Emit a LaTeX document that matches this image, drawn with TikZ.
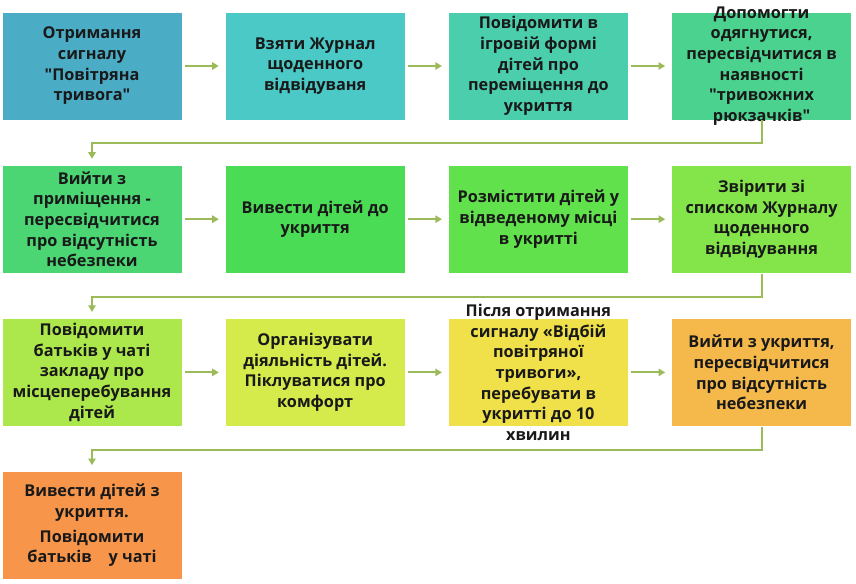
\documentclass[tikz,border=0pt]{standalone}
\usepackage{fontspec}
\setmainfont{Open Sans}
\usetikzlibrary{positioning,arrows.meta}
\definecolor{linkgreen}{RGB}{155,187,89}
\definecolor{c1}{RGB}{75,172,198}
\definecolor{c2}{RGB}{75,201,198}
\definecolor{c3}{RGB}{75,206,172}
\definecolor{c4}{RGB}{75,210,142}
\definecolor{c5}{RGB}{75,214,115}
\definecolor{c6}{RGB}{75,220,85}
\definecolor{c7}{RGB}{97,225,75}
\definecolor{c8}{RGB}{132,229,75}
\definecolor{c9}{RGB}{172,232,75}
\definecolor{c10}{RGB}{212,235,75}
\definecolor{c11}{RGB}{240,225,75}
\definecolor{c12}{RGB}{245,185,75}
\definecolor{c13}{RGB}{247,150,75}
\begin{document}
\begin{tikzpicture}[x=0.75pt,y=-0.75pt,
  stepbox/.style={rectangle, minimum width=135pt, minimum height=81pt, inner sep=0pt, draw=white, line width=0.6pt},
  steptext/.style={align=center, font=\bfseries\fontsize{12.2}{15.5}\selectfont, text=black!90},
  link/.style={-{Triangle[length=5pt,width=5.5pt]}, line width=1.5pt, draw=linkgreen, shorten >=4.5pt, shorten <=2pt},
  hop/.style={-{Triangle[length=5pt,width=5.5pt]}, line width=1.5pt, draw=linkgreen, shorten >=4.5pt},
  node distance=33.3pt and 31.8pt]
\useasboundingbox (0,0) rectangle (856,584);
% row 1
\node[stepbox, fill=c1, label={[steptext]center:{Отримання\\сигналу\\\textquotedbl Повітряна\\тривога\textquotedbl}}] (s1) at (92,66) {};
\node[stepbox, fill=c2, right=of s1, label={[steptext]center:{Взяти Журнал\\щоденного\\відвідуваня}}] (s2) {};
\node[stepbox, fill=c3, right=of s2, label={[steptext]center:{Повідомити в\\ігровій формі\\дітей про\\переміщення до\\укриття}}] (s3) {};
\node[stepbox, fill=c4, right=of s3, label={[steptext]center:{Допомогти\\одягнутися,\\пересвідчитися в\\наявності\\\textquotedbl тривожних\\рюкзачків\textquotedbl}}] (s4) {};
% row 2
\node[stepbox, fill=c5, below=of s1, label={[steptext]center:{Вийти з\\приміщення -\\пересвідчитися\\про відсутність\\небезпеки}}] (s5) {};
\node[stepbox, fill=c6, right=of s5, label={[steptext]center:{Вивести дітей до\\укриття}}] (s6) {};
\node[stepbox, fill=c7, right=of s6, label={[steptext]center:{Розмістити дітей у\\відведеному місці\\в укритті}}] (s7) {};
\node[stepbox, fill=c8, right=of s7, label={[steptext]center:{Звірити зі\\списком Журналу\\щоденного\\відвідування}}] (s8) {};
% row 3
\node[stepbox, fill=c9, below=of s5, label={[steptext]center:{Повідомити\\батьків у чаті\\закладу про\\місцеперебування\\дітей}}] (s9) {};
\node[stepbox, fill=c10, right=of s9, label={[steptext]center:{Організувати\\діяльність дітей.\\Піклуватися про\\комфорт}}] (s10) {};
\node[stepbox, fill=c11, right=of s10, label={[steptext]center:{Після отримання\\сигналу «Відбій\\повітряної\\тривоги»,\\перебувати в\\укритті до 10\\хвилин}}] (s11) {};
\node[stepbox, fill=c12, right=of s11, label={[steptext]center:{Вийти з укриття,\\пересвідчитися\\про відсутність\\небезпеки}}] (s12) {};
% row 4
\node[stepbox, fill=c13, below=of s9, label={[steptext]center:{Вивести дітей з\\укриття.\\[3pt]Повідомити\\батьків\ \ \ \ у чаті}}] (s13) {};
% arrows
\foreach \a/\b in {s1/s2,s2/s3,s3/s4,s5/s6,s6/s7,s7/s8,s9/s10,s10/s11,s11/s12}
  \draw[link] (\a.east) -- (\b.west);
\foreach \a/\b in {s4/s5,s8/s9,s12/s13}
  \draw[hop] (\a.south) -- ++(0,23) -| (\b.north);
\end{tikzpicture}
\end{document}
